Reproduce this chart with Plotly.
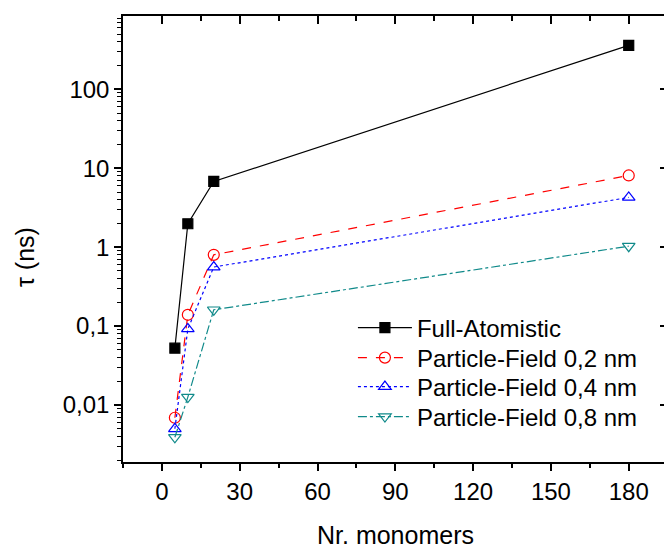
import plotly.graph_objects as go

# ---- data ----
monomers = [5, 10, 20, 180]
full_atomistic = [0.0525, 1.98, 6.8, 360]
pf_02 = [0.0069, 0.139, 0.80, 8.1]
pf_04 = [0.0050, 0.092, 0.56, 4.27]
pf_08 = [0.0039, 0.0126, 0.161, 1.03]

series_names = ["Full-Atomistic", "Particle-Field 0,2 nm",
                "Particle-Field 0,4 nm", "Particle-Field 0,8 nm"]

x_ticks = [0, 30, 60, 90, 120, 150, 180]
y_tickvals = [0.01, 0.1, 1, 10, 100]
y_ticktext = ["0,01", "0,1", "1", "10", "100"]

FONT = "Liberation Sans, Arial, sans-serif"

fig = go.Figure()
styles = [
    dict(color="black", dash="solid", symbol="square", fill=True),
    dict(color="#ff0000", dash="dash", symbol="circle-open", fill=False),
    dict(color="#0000ff", dash="dot", symbol="triangle-up-open", fill=False),
    dict(color="#108a8a", dash="dashdot", symbol="triangle-down-open", fill=False),
]
legend_ids = ["legend", "legend2", "legend3", "legend4"]
for name, ys, st, lg in zip(series_names, [full_atomistic, pf_02, pf_04, pf_08],
                            styles, legend_ids):
    fig.add_trace(go.Scatter(
        x=monomers, y=ys, name=name, mode="lines+markers", legend=lg,
        line=dict(color=st["color"], dash=st["dash"], width=1.2),
        marker=dict(symbol=st["symbol"], size=11 if not st["fill"] else 10,
                    color=st["color"], line=dict(color=st["color"], width=1.2)),
    ))

XR = [-15, 193.6]
YR = [-2.722, 2.929]

legend_rows_px = [328, 358, 387, 417]
legend_common = dict(x=0.425, xanchor="left", yanchor="middle",
                     bgcolor="rgba(0,0,0,0)", borderwidth=0,
                     font=dict(size=24, family=FONT), itemwidth=54)
legends = {}
for lg, row in zip(legend_ids, legend_rows_px):
    legends[lg] = dict(legend_common, y=(462 - row) / 446)

fig.update_layout(
    width=664, height=548,
    margin=dict(l=123, r=0, t=16, b=86),
    paper_bgcolor="white", plot_bgcolor="white",
    font=dict(family=FONT, color="black"),
    showlegend=True,
    **legends,
    xaxis=dict(range=XR, tickmode="array", tickvals=x_ticks,
               ticks="outside", ticklen=7, tickwidth=1.5, tickcolor="black",
               minor=dict(dtick=15, tick0=0, ticks="outside", ticklen=4,
                          tickwidth=1.5, tickcolor="black", showgrid=False),
               showline=True, linewidth=1.5, linecolor="black",
               showgrid=False, zeroline=False,
               tickfont=dict(size=24, family=FONT)),
    xaxis2=dict(range=XR, overlaying="x", side="top", anchor="y",
                tickmode="array", tickvals=x_ticks,
                ticks="inside", ticklen=8, tickwidth=1.5, tickcolor="black",
                minor=dict(dtick=15, tick0=0, ticks="inside", ticklen=5,
                           tickwidth=1.5, tickcolor="black", showgrid=False),
                showline=True, linewidth=1.5, linecolor="black",
                showgrid=False, zeroline=False, showticklabels=False),
    yaxis=dict(type="log", range=YR, tickmode="array",
               tickvals=y_tickvals, ticktext=y_ticktext,
               ticks="outside", ticklen=7, tickwidth=1.5, tickcolor="black",
               minor=dict(dtick="D1", ticks="outside", ticklen=4,
                          tickwidth=1.2, tickcolor="black", showgrid=False),
               showline=True, linewidth=1.5, linecolor="black",
               showgrid=False, zeroline=False,
               tickfont=dict(size=24, family=FONT)),
    yaxis2=dict(type="log", range=YR, overlaying="y", side="right", anchor="x",
                tickmode="array", tickvals=y_tickvals,
                ticks="inside", ticklen=4, tickwidth=1.5, tickcolor="black",
                showline=False, showgrid=False, zeroline=False,
                showticklabels=False),
)

# invisible traces to activate top x axis and right y axis
fig.add_trace(go.Scatter(x=[None], y=[None], xaxis="x2", yaxis="y",
                         showlegend=False, hoverinfo="skip"))
fig.add_trace(go.Scatter(x=[None], y=[None], xaxis="x", yaxis="y2",
                         showlegend=False, hoverinfo="skip"))

fig.add_annotation(text="Nr. monomers", xref="paper", yref="paper",
                   x=(395 - 123) / 541, y=(462 - 535) / 446,
                   xanchor="center", yanchor="middle", showarrow=False,
                   font=dict(size=25, family=FONT))
fig.add_annotation(text="τ (ns)", xref="paper", yref="paper",
                   x=(25 - 123) / 541, y=(462 - 257) / 446, textangle=-90,
                   xanchor="center", yanchor="middle", showarrow=False,
                   font=dict(size=25, family=FONT))

fig.write_html("out.html")
